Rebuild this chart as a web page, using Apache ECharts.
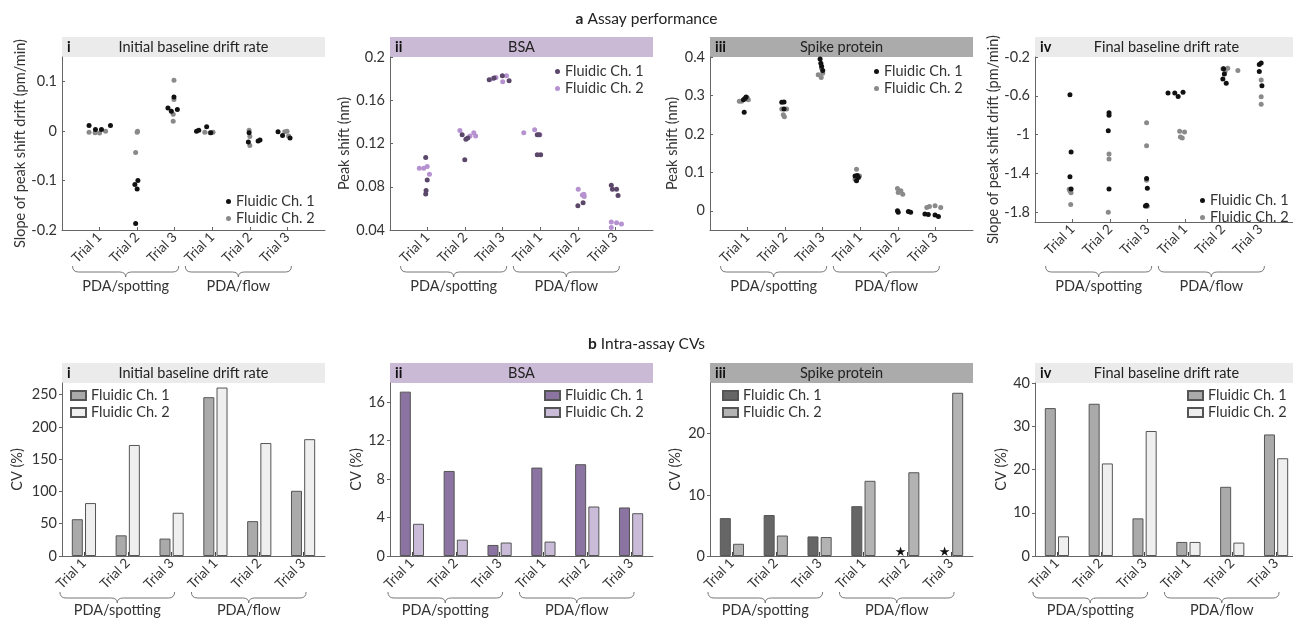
<!DOCTYPE html>
<html><head><meta charset="utf-8">
<script src="https://cdn.jsdelivr.net/npm/echarts@6/dist/echarts.min.js"></script>
<style>html,body{margin:0;padding:0;background:#fff}#c{width:1293px;height:621px}</style>
</head><body><div id="c"></div>
<script>
// ---------- data ----------
const trialLabels = ['Trial 1','Trial 2','Trial 3','Trial 1','Trial 2','Trial 3'];
const groupLabels = ['PDA/spotting','PDA/flow'];
const legendNames = ['Fluidic Ch. 1','Fluidic Ch. 2'];

// a-i Initial baseline drift rate  [x position, slope]
const a1Ch1 = [[0.72,0.0115],[0.89,0.0034],[1.05,0.0034],[1.29,0.0115],
 [1.94,-0.108],[2.02,-0.1],[2.0,-0.117],[1.96,-0.187],
 [2.82,0.047],[2.91,0.04],[2.98,0.069],[3.07,0.044],
 [3.58,0],[3.64,0.002],[3.85,0.009],[3.96,-0.003],
 [4.96,-0.022],[4.98,-0.003],[5.22,-0.02],[5.27,-0.018],
 [5.75,-0.001],[5.87,-0.009],[6.07,-0.014]];
const a1Ch2 = [[0.72,-0.002],[0.88,-0.003],[1.0,-0.004],[1.16,0.0],
 [2.0,-0.002],[2.01,0.0],[1.96,-0.043],
 [2.98,0.103],[2.98,0.064],[2.96,0.034],[2.96,0.02],
 [3.8,-0.002],[3.94,-0.003],[4.02,-0.002],
 [4.98,0.002],[5.0,-0.011],[5.0,-0.029],
 [5.93,-0.001],[5.99,0.0],[6.03,-0.01]];
// a-ii BSA peak shift (nm)
const a2Ch1 = [[0.95,0.107],[0.99,0.0863],[0.96,0.0765],[0.95,0.0733],
 [1.92,0.128],[2.02,0.124],[2.07,0.125],[1.99,0.105],
 [2.64,0.179],[2.77,0.1805],[2.99,0.1827],[3.17,0.178],
 [3.92,0.128],[3.97,0.128],[3.92,0.1095],[4.01,0.1095],
 [5.0,0.0625],[5.14,0.0653],
 [5.89,0.0814],[5.92,0.0777],[6.03,0.0777],[6.07,0.072]];
const a2Ch2 = [[0.78,0.097],[0.9,0.097],[0.99,0.0987],[1.05,0.0916],
 [1.86,0.132],[2.13,0.127],[2.23,0.130],[2.28,0.127],
 [2.73,0.180],[2.82,0.181],[3.0,0.177],[3.1,0.1827],
 [3.56,0.130],[3.85,0.1327],[3.99,0.128],
 [5.01,0.0777],[5.12,0.0724],[5.17,0.0709],[5.16,0.073],
 [5.89,0.0474],[5.89,0.0422],[6.03,0.0468],[6.16,0.0455]];
// a-iii Spike protein peak shift (nm)
const a3Ch1 = [[0.93,0.292],[0.96,0.296],[0.91,0.2566],[0.89,0.289],
 [1.91,0.2825],[1.97,0.283],[1.97,0.265],
 [2.93,0.395],[2.95,0.384],[2.97,0.376],[3.0,0.365],
 [3.86,0.0907],[3.9,0.0778],[3.95,0.0864],[3.92,0.092],
 [4.99,0.0],[5.01,-0.004],[5.28,-0.0017],[5.34,-0.004],
 [5.72,-0.0086],[5.81,-0.0095],[5.99,-0.011],[6.08,-0.0147]];
const a3Ch2 = [[0.78,0.285],[0.84,0.285],[0.99,0.294],[1.02,0.289],
 [1.91,0.265],[2.04,0.265],[1.98,0.2445],[1.95,0.25],
 [2.88,0.354],[2.96,0.347],[3.0,0.358],[2.97,0.371],
 [3.9,0.108],[3.98,0.0907],[3.86,0.082],
 [4.99,0.058],[5.08,0.052],[5.13,0.043],[5.01,0.0475],
 [5.77,0.0086],[5.84,0.011],[5.99,0.013],[6.14,0.0086]];
// a-iv Final baseline drift rate
const a4Ch1 = [[0.93,-0.59],[0.96,-1.18],[0.93,-1.435],[0.96,-1.56],
 [1.97,-0.774],[1.97,-0.80],[1.95,-0.96],[1.97,-1.56],
 [2.97,-1.452],[2.99,-1.553],[2.94,-1.734],[2.97,-1.727],
 [3.54,-0.572],[3.72,-0.572],[3.81,-0.607],[3.94,-0.562],
 [5.0,-0.426],[5.04,-0.374],[5.09,-0.471],[5.02,-0.322],
 [5.97,-0.277],[6.02,-0.263],[5.97,-0.35],[6.04,-0.496]];
const a4Ch2 = [[0.91,-1.563],[0.96,-1.598],[0.95,-1.72],[0.93,-1.58],
 [1.97,-1.20],[1.97,-1.25],[1.95,-1.80],
 [2.97,-0.878],[2.97,-1.115],[2.97,-1.47],[2.99,-1.737],
 [3.85,-0.965],[3.87,-1.024],[3.92,-1.035],[3.98,-0.972],
 [5.0,-0.322],[5.13,-0.315],[5.4,-0.339],[5.06,-0.35],
 [6.02,-0.437],[6.02,-0.61],[6.02,-0.687]];

// b CVs (%)
const b1Ch1 = [57, 32, 27, 246, 54, 101];
const b1Ch2 = [82, 172, 67, 261, 175, 181];
const b2Ch1 = [17.1, 8.85, 1.15, 9.2, 9.55, 5.05];
const b2Ch2 = [3.35, 1.7, 1.4, 1.5, 5.15, 4.45];
const b3Ch1 = [6.2, 6.7, 3.2, 8.15, null, null];
const b3Ch2 = [2.0, 3.35, 3.1, 12.3, 13.7, 26.7];
const b4Ch1 = [34.2, 35.2, 8.7, 3.25, 16.0, 28.1];
const b4Ch2 = [4.55, 21.4, 28.9, 3.25, 3.1, 22.6];

const aTicks = [[-0.2,-0.1,0,0.1],[0.04,0.08,0.12,0.16,0.2],[0,0.1,0.2,0.3,0.4],[-1.8,-1.4,-1,-0.6,-0.2]];
const bTicks = [[0,50,100,150,200,250],[0,4,8,12,16],[0,10,20],[0,10,20,30,40]];

// ---------- styling / layout ----------
const FONT = 'Lato';
const TXT = '#333';
const AX = '#666';
const W = 263;
const lefts = [62, 390, 710, 1035];
const topA = 57, topB = 383;
const heightsA = [173, 173, 173, 165];
const HB = 173;

const panels = [
 {row:'a', roman:'i', title:'Initial baseline drift rate', hdr:'#ebebeb', yName:'Slope of peak shift drift (pm/min)', gap:33, min:-0.2, max:0.15, c1:'#111111', c2:'#8a8a8a', d1:a1Ch1, d2:a1Ch2, leg:{left:221, top:189}},
 {row:'a', roman:'ii', title:'BSA', hdr:'#cbbad6', yName:'Peak shift (nm)', gap:38, min:0.04, max:0.2, c1:'#5b4769', c2:'#b692d0', d1:a2Ch1, d2:a2Ch2, leg:{left:550, top:59}},
 {row:'a', roman:'iii', title:'Spike protein', hdr:'#ababab', yName:'Peak shift (nm)', gap:30, min:-0.05, max:0.4, c1:'#111111', c2:'#8a8a8a', d1:a3Ch1, d2:a3Ch2, leg:{left:869, top:59}},
 {row:'a', roman:'iv', title:'Final baseline drift rate', hdr:'#ebebeb', yName:'Slope of peak shift drift (pm/min)', gap:34, min:-1.9, max:-0.2, c1:'#111111', c2:'#8a8a8a', d1:a4Ch1, d2:a4Ch2, leg:{left:1195, top:188}},
 {row:'b', roman:'i', title:'Initial baseline drift rate', hdr:'#ebebeb', yName:'CV (%)', gap:37, min:0, max:268, c1:'#aaaaaa', c2:'#efefef', d1:b1Ch1, d2:b1Ch2, leg:{left:65, top:383}},
 {row:'b', roman:'ii', title:'BSA', hdr:'#cbbad6', yName:'CV (%)', gap:25, min:0, max:18, c1:'#8b73a2', c2:'#cabbd9', d1:b2Ch1, d2:b2Ch2, leg:{left:539, top:383}},
 {row:'b', roman:'iii', title:'Spike protein', hdr:'#ababab', yName:'CV (%)', gap:27, min:0, max:28.3, c1:'#666666', c2:'#b3b3b3', d1:b3Ch1, d2:b3Ch2, leg:{left:717, top:383}},
 {row:'b', roman:'iv', title:'Final baseline drift rate', hdr:'#ebebeb', yName:'CV (%)', gap:26, min:0, max:40, c1:'#aaaaaa', c2:'#efefef', d1:b4Ch1, d2:b4Ch2, leg:{left:1182, top:383}}
];

const grid = [], xAxis = [], yAxis = [], series = [], legend = [];
const fmtNum = v => String(+(+v).toFixed(3));

panels.forEach((p, i) => {
  const col = i % 4;
  const isA = p.row === 'a';
  grid.push({left: lefts[col], top: isA ? topA : topB, width: W, height: isA ? heightsA[col] : HB, containLabel:false, outerBoundsMode:'none'});
  const labelStyle = {fontFamily: FONT, fontSize: 13.5, color: TXT};
  if (isA) {
    xAxis.push({type:'value', gridIndex:i, min:0, max:7,
      axisLine:{show:true, onZero:false, lineStyle:{color:AX, width:1}},
      axisTick:{show:true, inside:true, length:3, customValues:[1,2,3,4,5,6], lineStyle:{color:AX}},
      axisLabel:Object.assign({show:true, rotate:45, margin:5, customValues:[1,2,3,4,5,6], formatter: v => trialLabels[Math.round(v)-1] || ''}, labelStyle),
      splitLine:{show:false}});
  } else {
    xAxis.push({type:'category', gridIndex:i, data:trialLabels,
      axisLine:{show:true, onZero:false, lineStyle:{color:AX, width:1}},
      axisTick:{show:true, inside:true, alignWithLabel:true, length:4, lineStyle:{color:'#444'}},
      axisLabel:Object.assign({show:true, rotate:45, margin:5, interval:0}, labelStyle),
      splitLine:{show:false}});
  }
  const ticks = isA ? aTicks[col] : bTicks[col];
  yAxis.push({type:'value', gridIndex:i, min:p.min, max:p.max,
    name:p.yName, nameLocation:'middle', nameGap:p.gap,
    nameTextStyle:{fontFamily:FONT, fontSize:14.5, color:TXT},
    axisLine:{show:true, onZero:false, lineStyle:{color:AX, width:1}},
    axisTick:{show:true, inside:isA, length:3, customValues:ticks, lineStyle:{color:AX}},
    axisLabel:{show:true, customValues:ticks, formatter:fmtNum, margin:5, fontFamily:FONT, fontSize:14.5, color:TXT},
    splitLine:{show:false}});

  const n1 = p.row + (col+1) + ' ch1', n2 = p.row + (col+1) + ' ch2';
  if (isA) {
    series.push({type:'scatter', name:n2, xAxisIndex:i, yAxisIndex:i, data:p.d2, symbolSize:5, z:2, itemStyle:{color:p.c2, opacity:1}});
    series.push({type:'scatter', name:n1, xAxisIndex:i, yAxisIndex:i, data:p.d1, symbolSize:5, z:3, itemStyle:{color:p.c1, opacity:1}});
    legend.push({orient:'vertical', left:p.leg.left, top:p.leg.top, itemWidth:5, itemHeight:5, itemGap:2, icon:'circle',
      selectedMode:false, data:[n1, n2], formatter: nm => nm.endsWith('ch1') ? legendNames[0] : legendNames[1],
      textStyle:{fontFamily:FONT, fontSize:14.5, color:TXT}});
  } else {
    const d1 = p.d1.map(v => v === null ? {value:0, itemStyle:{borderWidth:0}, label:{show:true, position:'top', distance:-3, formatter:'\u2605', fontSize:13, color:'#111', fontFamily:'DejaVu Sans'}} : v);
    series.push({type:'bar', name:n1, xAxisIndex:i, yAxisIndex:i, data:d1, barWidth:11, barGap:'20%',
      itemStyle:{color:p.c1, borderColor:'#555', borderWidth:1}});
    series.push({type:'bar', name:n2, xAxisIndex:i, yAxisIndex:i, data:p.d2, barWidth:11, barGap:'20%',
      itemStyle:{color:p.c2, borderColor:'#555', borderWidth:1}});
    legend.push({orient:'vertical', left:p.leg.left, top:p.leg.top, itemWidth:15, itemHeight:9, itemGap:2, icon:'rect',
      selectedMode:false, data:[n1, n2], formatter: nm => nm.endsWith('ch1') ? legendNames[0] : legendNames[1],
      textStyle:{fontFamily:FONT, fontSize:14.5, color:TXT}});
  }
});

const chart = echarts.init(document.getElementById('c'), null, {renderer:'canvas'});
chart.setOption({
  backgroundColor:'#fff',
  animation:false,
  textStyle:{fontFamily:FONT},
  title:[
    {text:'{b|a} Assay performance', left:'center', top:6, textStyle:{fontFamily:FONT, fontSize:15.5, fontWeight:'normal', color:'#222', rich:{b:{fontFamily:FONT, fontSize:15.5, fontWeight:'bold', color:'#222'}}}},
    {text:'{b|b} Intra-assay CVs', left:'center', top:331, textStyle:{fontFamily:FONT, fontSize:15.5, fontWeight:'normal', color:'#222', rich:{b:{fontFamily:FONT, fontSize:15.5, fontWeight:'bold', color:'#222'}}}}
  ],
  grid, xAxis, yAxis, series, legend
});

// ---------- decorations: headers, braces, group labels ----------
const graphic = [];
const braceStyle = {fill:null, stroke:'#777', lineWidth:1};
function brace(xl, xr, y0) {
  const y1 = y0 + 6, y2 = y0 + 11, xm = (xl + xr) / 2, r = 6;
  const q = (x1, yy1, cx, cy, x2, yy2) => ({type:'bezierCurve', silent:true, shape:{x1, y1:yy1, cpx1:cx, cpy1:cy, x2, y2:yy2}, style:braceStyle});
  const l = (x1, x2) => ({type:'line', silent:true, shape:{x1, y1, x2, y2:y1}, style:braceStyle});
  return [
    q(xl, y0, xl, y1, xl + r, y1), l(xl + r, xm - r), q(xm - r, y1, xm, y1, xm, y2),
    q(xm, y2, xm, y1, xm + r, y1), l(xm + r, xr - r), q(xr - r, y1, xr, y1, xr, y0)
  ];
}
function label(x, y, text) {
  return {type:'text', silent:true, x, y, style:{text, fontFamily:FONT, fontSize:14.5, fill:TXT, align:'center', textAlign:'center', verticalAlign:'middle', textVerticalAlign:'middle'}};
}
panels.forEach((p, i) => {
  const col = i % 4, isA = p.row === 'a';
  const left = lefts[col], top = isA ? topA : topB;
  graphic.push({type:'rect', silent:true, shape:{x:left, y:top-20, width:W, height:20}, style:{fill:p.hdr}, z:-1});
  graphic.push({type:'text', silent:true, x:left+5, y:top-10, style:{text:p.roman, fontFamily:FONT, fontSize:14.5, fontWeight:'bold', fill:'#111', verticalAlign:'middle', textVerticalAlign:'middle'}});
  graphic.push({type:'text', silent:true, x:left+W/2, y:top-10, style:{text:p.title, fontFamily:FONT, fontSize:14.5, fill:'#222', align:'center', textAlign:'center', verticalAlign:'middle', textVerticalAlign:'middle'}});
  let cx, yb, ly, a, b;
  if (isA) {
    cx = k => chart.convertToPixel({gridIndex:i}, [k, p.min])[0];
    yb = 266; ly = 286; a = 27; b = 4;
    graphic.push(...brace(cx(1)-a, cx(3)+b, yb), ...brace(cx(4)-a, cx(6)+b, yb));
    graphic.push(label((cx(1)-a+cx(3)+b)/2, ly, groupLabels[0]), label((cx(4)-a+cx(6)+b)/2, ly, groupLabels[1]));
  } else {
    cx = k => chart.convertToPixel({gridIndex:i}, [k, 0])[0];
    yb = 592; ly = 610; a = 24; b = 3;
    graphic.push(...brace(cx(0)-a, cx(2)+b, yb), ...brace(cx(3)-a, cx(5)+b, yb));
    graphic.push(label((cx(0)-a+cx(2)+b)/2, ly, groupLabels[0]), label((cx(3)-a+cx(5)+b)/2, ly, groupLabels[1]));
  }
});
chart.setOption({graphic});
</script></body></html>
